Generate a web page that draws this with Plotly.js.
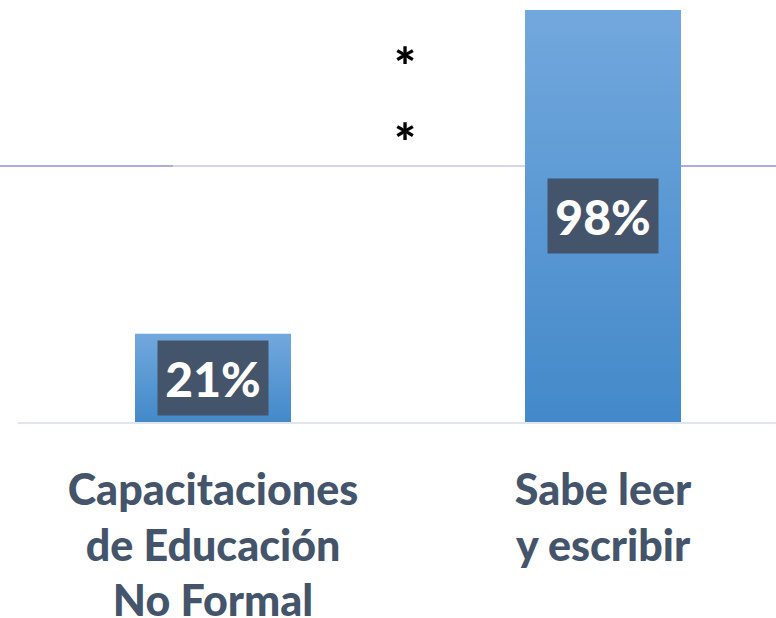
<!DOCTYPE html>
<html>
<head>
<meta charset="utf-8">
<script src="https://cdn.plot.ly/plotly-3.0.1.min.js"></script>
<style>
html,body{margin:0;padding:0;background:#fff;}
#chart{width:776px;height:618px;}
</style>
</head>
<body>
<div id="chart"></div>
<script>
// Data
var categories = ["Capacitaciones<br>de Educación<br>No Formal", "Sabe leer<br>y escribir"];
var values = [21, 98];
var valueLabels = ["21%", "98%"];
var markers = ["*", "*"];

var labelColor = "#44546a";
var font = "Lato, 'Open Sans', sans-serif";

var trace = {
  type: "bar",
  x: [0, 1],
  y: values,
  width: 0.4,
  marker: {color: "#5b9bd5", line: {width: 0}},
  hoverinfo: "none"
};

var annotations = values.map(function (v, i) {
  return {
    x: i, y: v / 2, xref: "x", yref: "y",
    text: valueLabels[i], showarrow: false,
    bgcolor: "#44546a", width: 110, height: 74,
    borderpad: 0, valign: "middle",
    font: {family: font, size: 48, color: "#ffffff", weight: 900}
  };
});
var starY = [0.847, 0.665];
markers.forEach(function (m, i) {
  annotations.push({
    x: 0.5106, y: starY[i], xref: "paper", yref: "paper",
    text: m, showarrow: false, xanchor: "center", yanchor: "middle",
    font: {family: font, size: 52, color: "#000000", weight: 900}
  });
});

var lineY = (422 - 166) / 422;
var layout = {
  width: 776, height: 618,
  margin: {l: 18, r: 0, t: 0, b: 196},
  paper_bgcolor: "#ffffff", plot_bgcolor: "#ffffff",
  showlegend: false,
  xaxis: {
    range: [-0.5, 1.4436],
    tickmode: "array", tickvals: [0, 1], ticktext: categories,
    showline: true, linecolor: "#e2e6ec", linewidth: 2,
    showgrid: false, zeroline: false, ticks: "",
    ticklabelstandoff: 29,
    tickfont: {family: font, size: 43, color: labelColor, weight: 900},
    fixedrange: true
  },
  yaxis: {
    range: [0, 100.4], visible: false, showgrid: false, zeroline: false, fixedrange: true
  },
  shapes: [
    {type: "line", layer: "below", xref: "paper", yref: "paper", x0: -0.03, x1: 1, y0: lineY, y1: lineY,
     line: {color: "#d6d5ef", width: 2}},
    {type: "line", layer: "below", xref: "paper", yref: "paper", x0: -0.03, x1: (173 - 18) / 758, y0: lineY, y1: lineY,
     line: {color: "#aaaedb", width: 2}},
    {type: "line", layer: "below", xref: "paper", yref: "paper", x0: (681 - 18) / 758, x1: 1, y0: lineY, y1: lineY,
     line: {color: "#aaaedb", width: 2}}
  ],
  annotations: annotations
};

Plotly.newPlot("chart", [trace], layout, {displayModeBar: false, staticPlot: true}).then(function (gd) {
  var svg = gd.querySelector("svg.main-svg");
  var ns = "http://www.w3.org/2000/svg";
  var defs = svg.querySelector("defs") || svg.insertBefore(document.createElementNS(ns, "defs"), svg.firstChild);
  var g = document.createElementNS(ns, "linearGradient");
  g.setAttribute("id", "barGrad");
  g.setAttribute("x1", "0"); g.setAttribute("y1", "0");
  g.setAttribute("x2", "0"); g.setAttribute("y2", "1");
  var s1 = document.createElementNS(ns, "stop");
  s1.setAttribute("offset", "0"); s1.setAttribute("stop-color", "#72a8dd");
  var s2 = document.createElementNS(ns, "stop");
  s2.setAttribute("offset", "1"); s2.setAttribute("stop-color", "#4389c9");
  g.appendChild(s1); g.appendChild(s2);
  defs.appendChild(g);
  gd.querySelectorAll(".bars .point path").forEach(function (p) {
    p.style.fill = "url(#barGrad)";
  });
});
</script>
</body>
</html>
